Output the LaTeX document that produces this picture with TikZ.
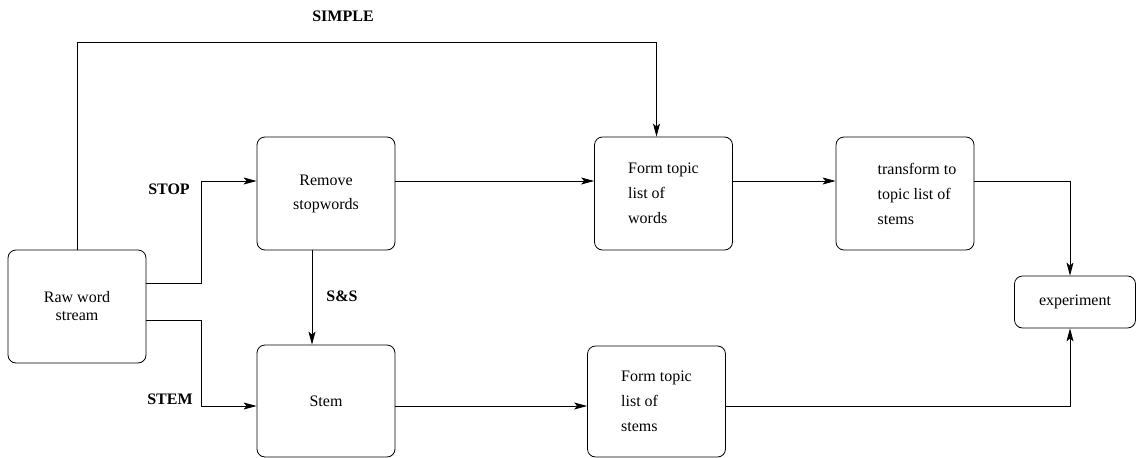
\documentclass[tikz,border=0pt]{standalone}
\usepackage{fontspec}
\setmainfont{Liberation Serif}
\usetikzlibrary{arrows.meta}

\tikzset{
  box/.style = {draw, rounded corners = 8pt, minimum width = 138pt, minimum height = 113pt, align = left, inner sep = 0pt},
  arr/.style = {-{Stealth[length = 13pt, width = 7pt, inset = 3pt]}},
  lbl/.style = {font = \fontsize{16}{25}\selectfont\bfseries}
}

\begin{document}
\begin{tikzpicture}[x = 1pt, y = -1pt, font = \fontsize{16}{25}\selectfont, line width = 0.8pt]
\useasboundingbox (0,0) rectangle (1136,458);
\node [box, align = center] (raw) at (77,306.5) {Raw word\\[-7pt]stream};
\node [box, align = center] (remove) at (326,193.5) {Remove\\[-1pt]stopwords};
\node [box] (words) at (663.5,193.5) {Form topic\\list of\\words};
\node [box] (trans) at (905,193.5) {\hspace*{24pt}transform to\\\hspace*{24pt}topic list of\\\hspace*{24pt}stems};
\node [box, minimum height = 112pt] (stem) at (326,401) {Stem};
\node [box, minimum height = 111pt] (stems) at (656.5,401.5) {Form topic\\list of\\stems};
\node [box, minimum width = 121pt, minimum height = 52pt] (exper) at (1075,302) {experiment};
% path labels
\node [lbl] (simple) at (343,16) {SIMPLE};
\node [lbl] (stop) at (169,189) {STOP};
\node [lbl] (stemlbl) at (170,399) {STEM};
\node [lbl] (ss) at (342,296) {S\&S};
% connectors
\coordinate (top) at (77,42);
\draw [arr] (raw.north) -- (top) -| ([xshift = -7pt]words.north);
\draw [arr] ([yshift = 23.5pt]raw.east) -- ++(55,0) |- ([yshift = 12.5pt]remove.west);
\draw [arr] ([yshift = -13.5pt]raw.east) -- ++(55,0) |- ([yshift = -5pt]stem.west);
\draw [arr] ([xshift = -14pt]remove.south) -- ([xshift = -14pt]stem.north);
\draw [arr] ([yshift = 12.5pt]remove.east) -- ([yshift = 12.5pt]words.west);
\draw [arr] ([yshift = 12.5pt]words.east) -- ([yshift = 12.5pt]trans.west);
\draw [arr] ([yshift = 12.5pt]trans.east) -| ([xshift = -5pt]exper.north);
\draw [arr] ([yshift = -5pt]stem.east) -- ([yshift = -4.5pt]stems.west);
\draw [arr] ([yshift = -4.5pt]stems.east) -| ([xshift = -5pt]exper.south);
\end{tikzpicture}
\end{document}
